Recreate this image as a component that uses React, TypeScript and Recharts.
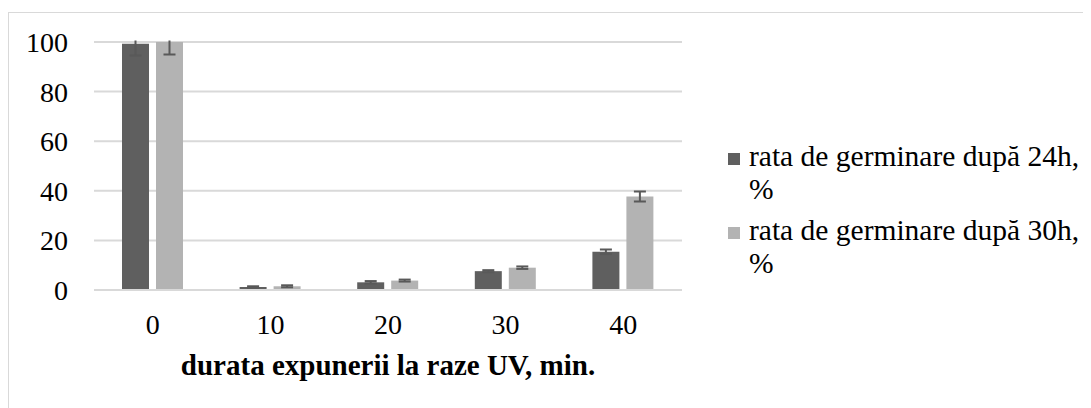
import React from 'react';
import { BarChart, Bar, XAxis, YAxis, CartesianGrid, ErrorBar, Legend } from 'recharts';

const categories = ['0', '10', '20', '30', '40'];
const rate24 = [99.3, 1.2, 3.1, 7.6, 15.4];
const rate30 = [100, 1.5, 3.8, 9.0, 37.7];
const err24 = [4.7, 0.3, 0.5, 0.4, 0.9];
const err30 = [5, 0.4, 0.4, 0.5, 2.0];
const yTicks = [0, 20, 40, 60, 80, 100];

const name24 = 'rata de germinare după 24h, %';
const name30 = 'rata de germinare după 30h, %';

const rows = categories.map((c, i) => ({
  cat: c,
  r24: rate24[i],
  r30: rate30[i],
  e24: err24[i],
  e30: err30[i],
}));

const serif = "'Liberation Serif', 'Times New Roman', serif";
const tickStyle = { fill: '#000', fontSize: 28, fontFamily: serif };

// chart box + margins, also used for the clip of the error bars (excel cuts them at the plot edge)
const W = 1082;
const H = 395;
const M = { top: 29, right: 409, left: 25, bottom: 28 };
const yAxisW = 60;
const plotX = M.left + yAxisW;
const plotW = W - M.right - plotX;

// legend like the excel one: square + wrapped label
const LegendBox = (props: any) => {
  const items = props.payload || [];
  return (
    <div style={{ fontFamily: serif, fontSize: 29.5, lineHeight: '33px', color: '#000' }}>
      {items.map((it: any, i: number) => (
        <div key={i} style={{ display: 'flex', marginBottom: 8 }}>
          <div style={{ width: 12, height: 12, background: it.color, marginTop: 13, marginRight: 9, flexShrink: 0 }} />
          <div style={{ width: 335 }}>{it.value}</div>
        </div>
      ))}
    </div>
  );
};

export default function App() {
  return (
    <div style={{ marginTop: 4, width: 1083, height: 396, borderTop: '1px solid #d9d9d9', borderLeft: '1px solid #d9d9d9', boxSizing: 'border-box' }}>
      <style>{'.recharts-errorBar { clip-path: url(#plotClip); }'}</style>
      <BarChart
        width={W}
        height={H}
        data={rows}
        barSize={27}
        barGap={7}
        margin={M}
      >
        <defs>
          <clipPath id="plotClip">
            <rect x={plotX} y={M.top - 1.5} width={plotW} height={H} />
          </clipPath>
        </defs>
        <CartesianGrid vertical={false} stroke="#d9d9d9" strokeWidth={2} />
        <XAxis
          dataKey="cat"
          tickLine={false}
          axisLine={{ stroke: '#d9d9d9', strokeWidth: 2 }}
          tick={tickStyle}
          tickMargin={18}
          height={90}
          label={{ value: 'durata expunerii la raze UV, min.', position: 'insideBottom', offset: 5, style: { fill: '#000', fontSize: 29, fontWeight: 'bold', fontFamily: serif } }}
        />
        <YAxis
          domain={[0, 100]}
          ticks={yTicks}
          allowDataOverflow
          axisLine={false}
          tickLine={false}
          tick={tickStyle}
          tickMargin={20}
          width={yAxisW}
        />
        <Legend
          layout="vertical"
          align="center"
          verticalAlign="middle"
          wrapperStyle={{ left: 719, top: 127, width: 370 }}
          content={<LegendBox />}
        />
        <Bar dataKey="r24" name={name24} fill="#5f5f5f" isAnimationActive={false}>
          <ErrorBar dataKey="e24" width={6} stroke="#595959" strokeWidth={2} />
        </Bar>
        <Bar dataKey="r30" name={name30} fill="#b3b3b3" isAnimationActive={false}>
          <ErrorBar dataKey="e30" width={6} stroke="#595959" strokeWidth={2} />
        </Bar>
      </BarChart>
    </div>
  );
}
